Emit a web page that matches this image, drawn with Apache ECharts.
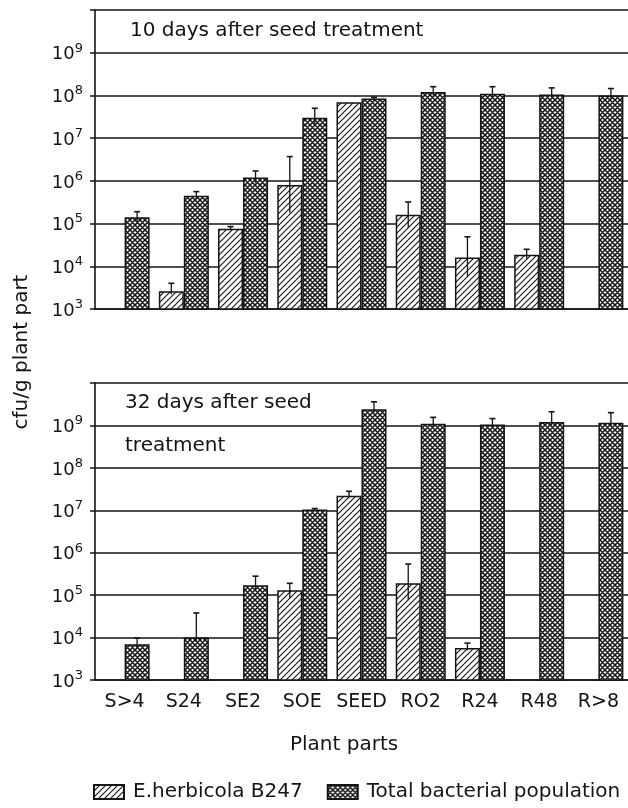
<!DOCTYPE html>
<html>
<head>
<meta charset="utf-8">
<script src="https://cdn.jsdelivr.net/npm/echarts@6/dist/echarts.min.js"></script>
<style>
html, body { margin: 0; padding: 0; background: #fff; }
#main { width: 628px; height: 808px; }
</style>
</head>
<body>
<div id="main"></div>
<script>
var categories = ['S>4', 'S24', 'SE2', 'SOE', 'SEED', 'RO2', 'R24', 'R48', 'R>8'];
var yTicks = [1e3, 1e4, 1e5, 1e6, 1e7, 1e8, 1e9, 1e10];

// 10 days after seed treatment
var herb10 = [null, 2.6e3, 7.6e4, 8e5, 6.9e7, 1.6e5, 1.6e4, 1.85e4, null];
var total10 = [1.4e5, 4.5e5, 1.2e6, 3e7, 8.5e7, 1.2e8, 1.1e8, 1.05e8, 1e8];
// error ranges [low, high]
var herb10Err = [null, [2.2e3, 4e3], [7e4, 8.5e4], [1.8e5, 3.7e6], null, [8e4, 3.2e5], [5.6e3, 4.9e4], [1.5e4, 2.5e4], null];
var total10Err = [[1e5, 1.9e5], [3.8e5, 5.6e5], [9e5, 1.7e6], [2e7, 5e7], [7.5e7, 9e7], [1e8, 1.6e8], [9e7, 1.6e8], [9e7, 1.5e8], [8.5e7, 1.45e8]];

// 32 days after seed treatment
var herb32 = [null, null, null, 1.3e5, 2.2e7, 1.9e5, 5.7e3, null, null];
var total32 = [7e3, 1e4, 1.7e5, 1.05e7, 2.4e9, 1.1e9, 1.05e9, 1.2e9, 1.15e9];
var herb32Err = [null, null, null, [8.5e4, 1.9e5], [2e7, 2.8e7], [7.6e4, 5.4e5], [5e3, 7.4e3], null, null];
var total32Err = [[5.5e3, 9.7e3], [8e3, 3.8e4], [1.4e5, 2.8e5], [1e7, 1.1e7], [2e9, 3.6e9], [9e8, 1.55e9], [9e8, 1.45e9], [1e9, 2.1e9], [9.5e8, 2e9]];

var FONT = 'DejaVu Sans';
var INK = '#141414';

// fill patterns: "///" hatching and cross hatching
function makePattern(cross) {
	var n = cross ? 5 : 6;
	var c = document.createElement('canvas');
	c.width = n; c.height = n;
	var g = c.getContext('2d');
	g.fillStyle = '#fff';
	g.fillRect(0, 0, n, n);
	g.strokeStyle = INK;
	g.lineWidth = cross ? 1.5 : 1.1;
	g.beginPath();
	g.moveTo(-1, n + 1); g.lineTo(n + 1, -1);
	g.moveTo(-1, 1); g.lineTo(1, -1);
	g.moveTo(n - 1, n + 1); g.lineTo(n + 1, n - 1);
	if (cross) {
		g.moveTo(-1, -1); g.lineTo(n + 1, n + 1);
		g.moveTo(n - 1, -1); g.lineTo(n + 1, 1);
		g.moveTo(-1, n - 1); g.lineTo(1, n + 1);
	}
	g.stroke();
	return c;
}
var hatchFill = { image: makePattern(false), repeat: 'repeat' };
var crossFill = { image: makePattern(true), repeat: 'repeat' };

function errData(arr) {
	var out = [];
	arr.forEach(function (e, i) {
		if (e) out.push([i, e[0], e[1]]);
	});
	return out;
}

function errRender(offset) {
	return function (params, api) {
		var lo = api.coord([api.value(0), api.value(1)]);
		var hi = api.coord([api.value(0), api.value(2)]);
		var x = lo[0] + offset;
		return {
			type: 'group',
			children: [
				{ type: 'line', shape: { x1: x, y1: lo[1], x2: x, y2: hi[1] }, style: { stroke: INK, lineWidth: 1.3 } },
				{ type: 'line', shape: { x1: x - 3, y1: hi[1], x2: x + 3, y2: hi[1] }, style: { stroke: INK, lineWidth: 1.6 } }
			]
		};
	};
}

function xAxisFor(idx, showLabels) {
	return {
		type: 'category',
		gridIndex: idx,
		data: categories,
		axisLine: { lineStyle: { color: INK, width: 1.6 } },
		axisTick: { show: false },
		axisLabel: {
			show: showLabels,
			color: INK,
			fontFamily: FONT,
			fontSize: 19,
			margin: 13,
			interval: 0
		}
	};
}

function yAxisFor(idx) {
	return {
		type: 'log',
		logBase: 10,
		gridIndex: idx,
		min: yTicks[0],
		max: yTicks[yTicks.length - 1],
		interval: 1,
		axisLine: { show: true, lineStyle: { color: INK, width: 1.6 } },
		axisTick: { show: true, length: 5, lineStyle: { color: INK, width: 1.5 } },
		splitLine: { show: true, lineStyle: { color: INK, width: 1.5 } },
		axisLabel: {
			color: INK,
			margin: 12,
			formatter: function (v) {
				var e = Math.round(Math.log10(v));
				if (e > 9) return '';
				return '{b|10}{s|' + e + '}';
			},
			rich: {
				b: { fontFamily: FONT, fontSize: 18, color: INK, verticalAlign: 'bottom' },
				s: { fontFamily: FONT, fontSize: 13, color: INK, verticalAlign: 'bottom', padding: [0, 0, 9, 0] }
			}
		}
	};
}

function barSeries(name, data, idx, fill) {
	return {
		name: name,
		type: 'bar',
		xAxisIndex: idx,
		yAxisIndex: idx,
		data: data,
		barWidth: 25,
		barGap: '0%',
		itemStyle: { color: fill, borderColor: INK, borderWidth: 1.5 },
		emphasis: { disabled: true },
		z: 3
	};
}

function errSeries(data, idx, offset) {
	return {
		type: 'custom',
		xAxisIndex: idx,
		yAxisIndex: idx,
		data: errData(data),
		renderItem: errRender(offset),
		encode: { x: 0, y: [1, 2] },
		silent: true,
		z: 5
	};
}

var myChart = echarts.init(document.getElementById('main'), null, { renderer: 'canvas' });

var option = {
	backgroundColor: '#fff',
	animation: false,
	grid: [
		{ left: 95, right: 0, top: 10, height: 299 },
		{ left: 95, right: 0, top: 383, height: 297 }
	],
	xAxis: [xAxisFor(0, false), xAxisFor(1, true)],
	yAxis: [yAxisFor(0), yAxisFor(1)],
	legend: {
		data: ['E.herbicola B247', 'Total bacterial population'],
		icon: 'rect',
		left: 88,
		top: 777,
		itemWidth: 30,
		itemHeight: 14,
		itemGap: 24,
		textStyle: { fontFamily: FONT, fontSize: 20, color: INK, padding: [0, 0, 0, 4] },
		selectedMode: false
	},
	graphic: [
		{ type: 'text', left: 130, top: 21, style: { text: '10 days after seed treatment', font: '20px "DejaVu Sans"', fill: INK } },
		{ type: 'text', left: 125, top: 393, style: { text: '32 days after seed', font: '20px "DejaVu Sans"', fill: INK } },
		{ type: 'text', left: 125, top: 436, style: { text: 'treatment', font: '20px "DejaVu Sans"', fill: INK } },
		{ type: 'text', left: 290, top: 735, style: { text: 'Plant parts', font: '20px "DejaVu Sans"', fill: INK } },
		{ type: 'text', x: 22, y: 352, rotation: Math.PI / 2, style: { text: 'cfu/g plant part', font: '20px "DejaVu Sans"', fill: INK, align: 'center', verticalAlign: 'middle' } }
	],
	series: [
		barSeries('E.herbicola B247', herb10, 0, hatchFill),
		barSeries('Total bacterial population', total10, 0, crossFill),
		barSeries('E.herbicola B247', herb32, 1, hatchFill),
		barSeries('Total bacterial population', total32, 1, crossFill),
		errSeries(herb10Err, 0, -12.5),
		errSeries(total10Err, 0, 12.5),
		errSeries(herb32Err, 1, -12.5),
		errSeries(total32Err, 1, 12.5)
	]
};
myChart.setOption(option);
window.onresize = function () { myChart.resize(); };
</script>
</body>
</html>
